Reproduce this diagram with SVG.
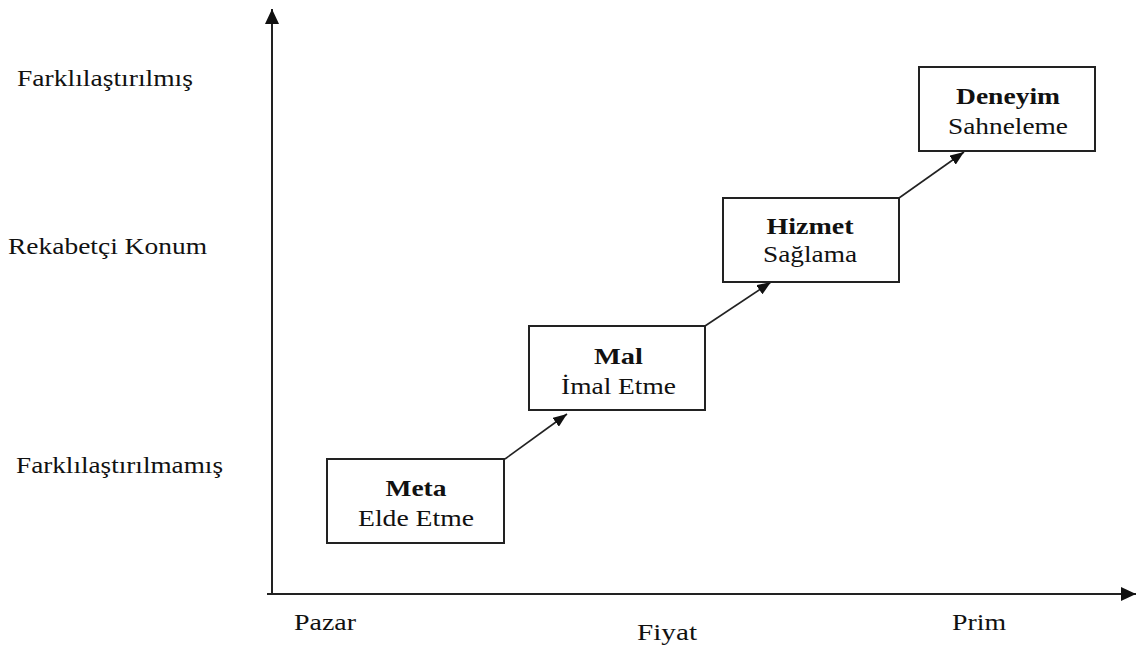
<svg xmlns="http://www.w3.org/2000/svg" width="1137" height="646" viewBox="0 0 1137 646">
<defs>
<style>
text{font-family:"Liberation Serif","Times New Roman",serif;fill:#111;}
.lbl{font-size:23px;}
.bt{font-size:24px;font-weight:bold;text-anchor:middle;}
.nt{font-size:24px;text-anchor:middle;}
.box{fill:#fff;stroke:#222;stroke-width:2;}
.ax{stroke:#222;stroke-width:2;fill:none;}
.con{stroke:#222;stroke-width:1.6;fill:none;}
</style>
<marker id="axh" markerUnits="userSpaceOnUse" markerWidth="16" markerHeight="14" refX="15" refY="7" orient="auto">
<path d="M0,0 L15,7 L0,14 z" fill="#111"/>
</marker>
<marker id="ah" markerUnits="userSpaceOnUse" markerWidth="15" markerHeight="11" refX="14" refY="5.5" orient="auto">
<path d="M0,0 L14,5.5 L0,11 z" fill="#111"/>
</marker>
</defs>
<g id="axes">
<line class="ax" x1="272" y1="595" x2="272" y2="9" marker-end="url(#axh)"/>
<line class="ax" x1="267" y1="594" x2="1136" y2="594" marker-end="url(#axh)"/>
</g>
<g id="axis-labels">
<text class="lbl" x="17" y="86" textLength="176" lengthAdjust="spacingAndGlyphs">Farklılaştırılmış</text>
<text class="lbl" x="8" y="254" textLength="199" lengthAdjust="spacingAndGlyphs">Rekabetçi Konum</text>
<text class="lbl" x="16" y="473" textLength="207" lengthAdjust="spacingAndGlyphs">Farklılaştırılmamış</text>
<text class="lbl" x="294" y="630" textLength="62" lengthAdjust="spacingAndGlyphs">Pazar</text>
<text class="lbl" x="637" y="640" textLength="60" lengthAdjust="spacingAndGlyphs">Fiyat</text>
<text class="lbl" x="952" y="630" textLength="54" lengthAdjust="spacingAndGlyphs">Prim</text>
</g>
<g id="connectors">
<line class="con" x1="505" y1="459" x2="567" y2="414" marker-end="url(#ah)"/>
<line class="con" x1="705" y1="326" x2="771" y2="282" marker-end="url(#ah)"/>
<line class="con" x1="899" y1="198" x2="964" y2="152" marker-end="url(#ah)"/>
</g>
<g id="meta">
<rect class="box" x="327" y="459" width="177" height="84"/>
<text class="bt" x="416" y="496" textLength="61" lengthAdjust="spacingAndGlyphs">Meta</text>
<text class="nt" x="416" y="526" textLength="116" lengthAdjust="spacingAndGlyphs">Elde Etme</text>
</g>
<g id="mal">
<rect class="box" x="529" y="326" width="176" height="84"/>
<text class="bt" x="618.5" y="364" textLength="49" lengthAdjust="spacingAndGlyphs">Mal</text>
<text class="nt" x="618.5" y="394" textLength="115" lengthAdjust="spacingAndGlyphs">İmal Etme</text>
</g>
<g id="hizmet">
<rect class="box" x="723" y="198" width="176" height="84"/>
<text class="bt" x="810" y="234" textLength="87" lengthAdjust="spacingAndGlyphs">Hizmet</text>
<text class="nt" x="810" y="262" textLength="94" lengthAdjust="spacingAndGlyphs">Sağlama</text>
</g>
<g id="deneyim">
<rect class="box" x="919" y="67" width="176" height="84"/>
<text class="bt" x="1008" y="104" textLength="104" lengthAdjust="spacingAndGlyphs">Deneyim</text>
<text class="nt" x="1008" y="134" textLength="120" lengthAdjust="spacingAndGlyphs">Sahneleme</text>
</g>
</svg>
